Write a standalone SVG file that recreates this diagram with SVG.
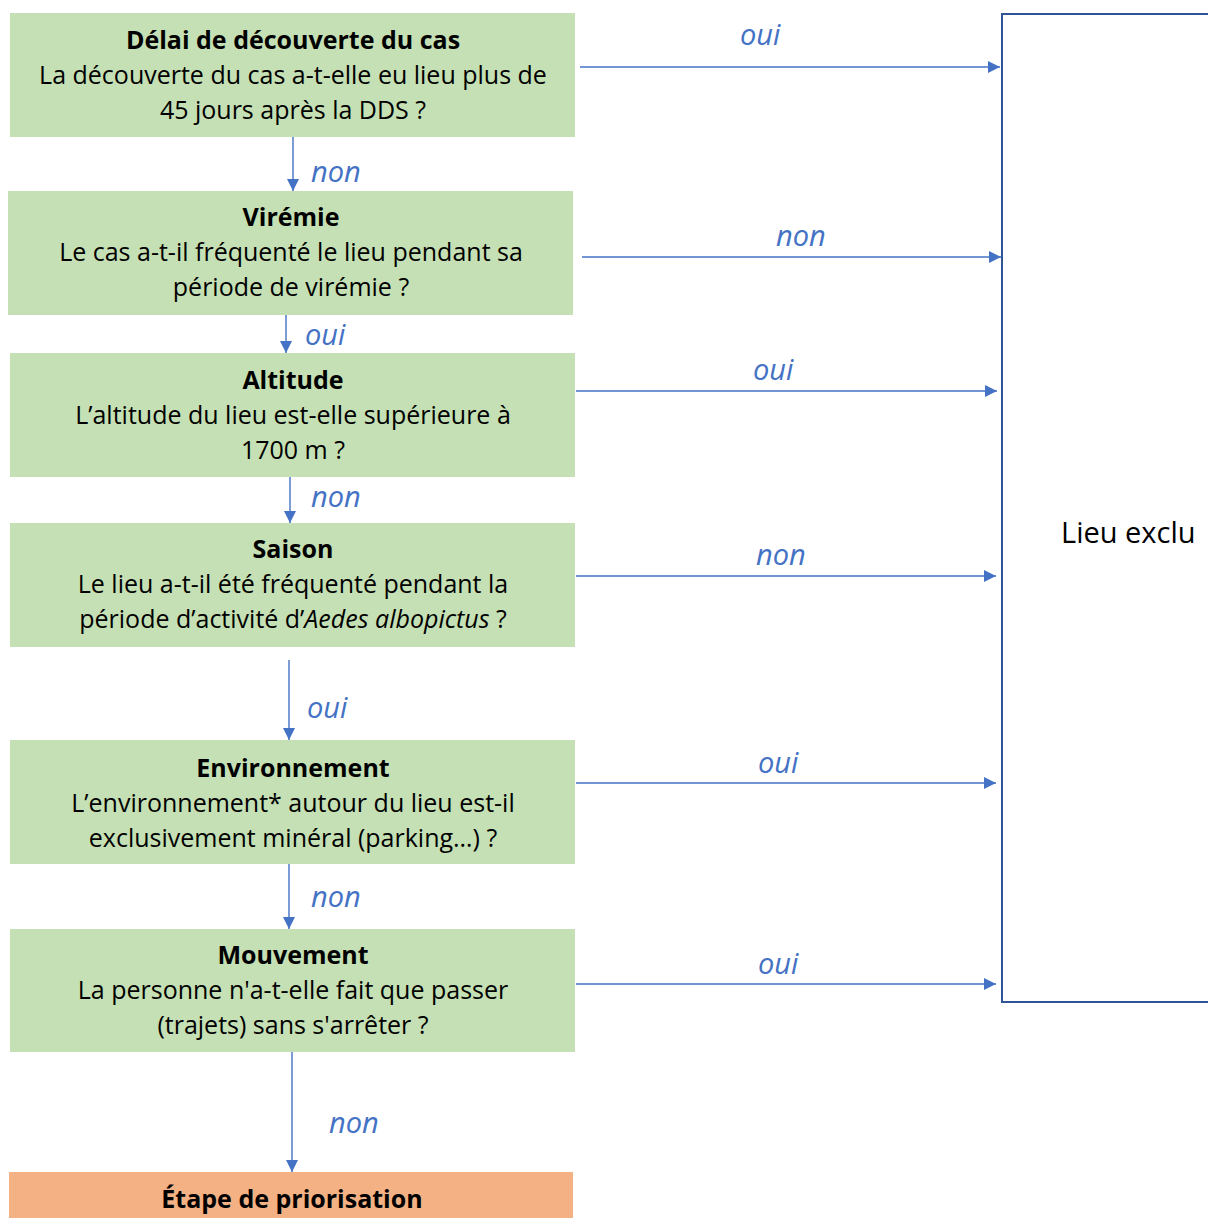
<svg xmlns="http://www.w3.org/2000/svg" width="1208" height="1218" viewBox="0 0 1208 1218">
<defs>
<style>
.box{fill:#C5E0B4;}
.prio{fill:#F4B183;}
.t{font-family:"Open Sans","Noto Sans","Liberation Sans",sans-serif;font-size:25px;fill:#000;text-anchor:middle;}
.b{font-weight:bold;}
.lbl{font-family:"Open Sans","Noto Sans","Liberation Sans",sans-serif;font-size:29px;font-style:italic;fill:#4472C4;}
.c{stroke:#4472C4;stroke-width:1.4;fill:none;marker-end:url(#ah);}
</style>
<marker id="ah" viewBox="0 0 10 10" refX="10" refY="5" markerWidth="13" markerHeight="12" markerUnits="userSpaceOnUse" orient="auto">
<path d="M0,0 L10,5 L0,10 z" fill="#4472C4"/>
</marker>
</defs>
<rect width="1208" height="1218" fill="#fff"/>

<g id="excl">
<rect x="1002" y="14" width="220" height="988" fill="#fff" stroke="#2F5597" stroke-width="2"/>
<text x="1061" y="543" style="font-family:'Open Sans','Noto Sans','Liberation Sans',sans-serif;font-size:29px;fill:#000">Lieu exclu</text>
</g>

<g id="n1">
<rect class="box" x="10" y="13" width="565" height="124"/>
<text class="t b" x="293" y="49">Délai de découverte du cas</text>
<text class="t" x="293" y="84">La découverte du cas a-t-elle eu lieu plus de</text>
<text class="t" x="293" y="119">45 jours après la DDS ?</text>
</g>
<g id="n2">
<rect class="box" x="8" y="191" width="565" height="124"/>
<text class="t b" x="291" y="226">Virémie</text>
<text class="t" x="291" y="261">Le cas a-t-il fréquenté le lieu pendant sa</text>
<text class="t" x="291" y="296">période de virémie ?</text>
</g>
<g id="n3">
<rect class="box" x="10" y="353" width="565" height="124"/>
<text class="t b" x="293" y="389">Altitude</text>
<text class="t" x="293" y="424">L’altitude du lieu est-elle supérieure à</text>
<text class="t" x="293" y="459">1700 m ?</text>
</g>
<g id="n4">
<rect class="box" x="10" y="523" width="565" height="124"/>
<text class="t b" x="293" y="558">Saison</text>
<text class="t" x="293" y="593">Le lieu a-t-il été fréquenté pendant la</text>
<text class="t" x="293" y="628">période d’activité d’<tspan font-style="italic">Aedes albopictus</tspan> ?</text>
</g>
<g id="n5">
<rect class="box" x="10" y="740" width="565" height="124"/>
<text class="t b" x="293" y="777">Environnement</text>
<text class="t" x="293" y="812">L’environnement* autour du lieu est-il</text>
<text class="t" x="293" y="847">exclusivement minéral (parking…) ?</text>
</g>
<g id="n6">
<rect class="box" x="10" y="929" width="565" height="123"/>
<text class="t b" x="293" y="964">Mouvement</text>
<text class="t" x="293" y="999">La personne n'a-t-elle fait que passer</text>
<text class="t" x="293" y="1034">(trajets) sans s'arrêter ?</text>
</g>
<g id="n7">
<rect class="prio" x="9" y="1172" width="564" height="50"/>
<text class="t b" x="292" y="1208">Étape de priorisation</text>
</g>

<g id="connectors">
<line class="c" x1="293" y1="137" x2="293" y2="191"/>
<line class="c" x1="286" y1="315" x2="286" y2="353"/>
<line class="c" x1="290" y1="477" x2="290" y2="523"/>
<line class="c" x1="289" y1="660" x2="289" y2="740"/>
<line class="c" x1="289" y1="864" x2="289" y2="929"/>
<line class="c" x1="292" y1="1052" x2="292" y2="1172"/>
<line class="c" x1="580" y1="67" x2="1000" y2="67"/>
<line class="c" x1="582" y1="257" x2="1001" y2="257"/>
<line class="c" x1="576" y1="391" x2="997" y2="391"/>
<line class="c" x1="576" y1="576" x2="996" y2="576"/>
<line class="c" x1="576" y1="783" x2="996" y2="783"/>
<line class="c" x1="576" y1="984" x2="996" y2="984"/>
<text class="lbl" x="311" y="182">non</text>
<text class="lbl" x="305" y="345">oui</text>
<text class="lbl" x="311" y="507">non</text>
<text class="lbl" x="307" y="718">oui</text>
<text class="lbl" x="311" y="907">non</text>
<text class="lbl" x="329" y="1133">non</text>
<text class="lbl" x="740" y="45">oui</text>
<text class="lbl" x="776" y="246">non</text>
<text class="lbl" x="753" y="380">oui</text>
<text class="lbl" x="756" y="565">non</text>
<text class="lbl" x="758" y="773">oui</text>
<text class="lbl" x="758" y="974">oui</text>
</g>
</svg>
